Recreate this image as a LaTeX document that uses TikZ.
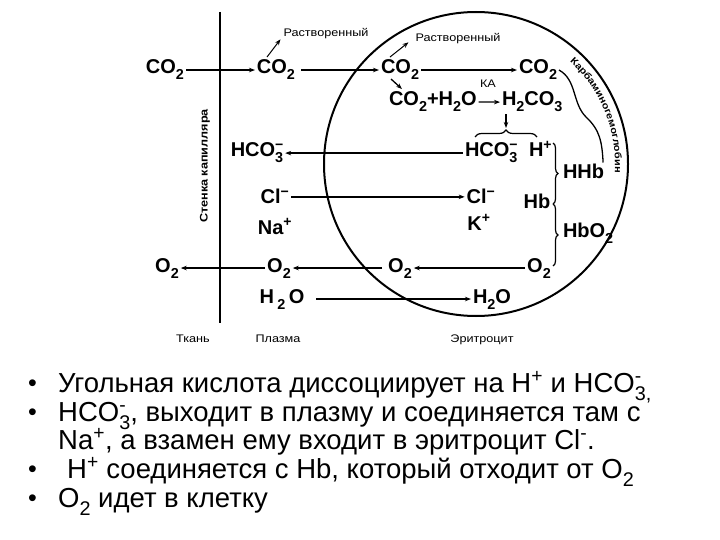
\documentclass[tikz,border=0pt]{standalone}
\usepackage{fontspec}
\usepackage{graphicx}
\setmainfont{Liberation Sans}
\newfontfamily\widefont{Liberation Sans}[FakeStretch=1.15]
\usetikzlibrary{arrows.meta,decorations.pathreplacing,decorations.text}

\newcommand\sbs[1]{\raisebox{-0.3em}{\scalebox{0.72}{#1}}}
\newcommand\sps[1]{\textsuperscript{#1}}
\newcommand\subsup[2]{\rlap{\textsuperscript{#2}}\sbs{#1}}

\tikzset{
 lab/.style={font=\fontsize{20}{22}\selectfont\bfseries, inner sep=0pt, outer sep=2pt, anchor=base},
 small/.style={font=\widefont\fontsize{11}{13}\selectfont, inner sep=0pt, outer sep=1pt, anchor=base},
 arr/.style={-{Stealth[length=6pt,width=4.5pt]}, line width=1.3pt},
 ln/.style={line width=1.3pt},
 brc/.style={decorate, decoration={brace, amplitude=#1}, line width=1.2pt},
 bul/.style={font=\fontsize{27.5}{29}\selectfont, inner sep=0pt, anchor=base west},
 dot/.style={font=\fontsize{25}{26}\selectfont, inner sep=0pt, anchor=base west},
}

\begin{document}
\begin{tikzpicture}[x=1pt,y=-1pt]
\useasboundingbox (0,0) rectangle (720,540);
% capillary wall
\coordinate (wt) at (220,12);
\coordinate (wb) at (220,323);
\draw[line width=2pt] (wt) -- (wb);
\node[rotate=90, font=\widefont\fontsize{11}{13}\selectfont\bfseries, inner sep=0pt] (wall) at (205,166) {Стенка капилляра};
% erythrocyte
\node[circle, draw, line width=2pt, minimum size=304pt, inner sep=0pt] (rbc) at (476,164) {};

% row 1
\node[lab] (tC) at (165,74) {CO\sbs2};
\node[lab] (pC) at (276,74) {CO\sbs2};
\node[lab] (rC1) at (400,74) {CO\sbs2};
\node[lab] (rC2) at (538,74) {CO\sbs2};
\draw[arr] (tC.east) -- (pC.west);
\draw[arr, shorten <=4pt] (pC.east) -- (rC1.west);
\draw[arr] (rC1.east) -- (rC2.west);
\node[small] (d1) at (326,37) {Растворенный};
\node[small] (d2) at (458,42) {Растворенный};
\draw[arr, line width=1pt] ([xshift=-9pt,yshift=1pt]pC.north) -- ([xshift=-2pt,yshift=1pt]d1.south west);
\draw[arr, line width=1pt] ([xshift=-10pt,yshift=1pt]rC1.north) -- ([xshift=-6pt,yshift=3pt]d2.south west);

% row 2
\node[lab, anchor=base west] (r2a) at (387,106) {CO\sbs2+H\sbs2O};
\node[lab, anchor=base west] (r2b) at (500,106) {H\sbs2CO\sbs3};
\node[small] (ka) at (488,88) {КА};
\draw[arr] (r2a.east) -- (r2b.west);
\draw[arr] ([xshift=-9pt,yshift=3pt]rC1.south) -- ([xshift=15pt,yshift=1pt]r2a.north west);
\coordinate (bt) at (506,128);
\draw[arr] (r2b.south -| bt) -- (bt);
\coordinate (bl) at (475,137);
\coordinate (br) at (537,137);
\draw[brc=7pt] (bl) -- (br);

% row 3
\node[lab] (pH) at (257,157) {HCO\subsup{3}{−}};
\node[lab, anchor=base west] (rH) at (463,157) {HCO\subsup{3}{−}};
\node[lab, anchor=base west] (hp) at (527,157) {H\sps{+}};
\draw[arr] (rH.west) -- (pH.east);

% haemoglobin braces
\coordinate (v1) at (553,143);
\coordinate (v2) at (553,204);
\coordinate (v3) at (553,266);
\draw[brc=5pt] (v1) -- (v2);
\draw[brc=5pt] (v2) -- (v3);
\node[lab, anchor=base west] (HHb) at (561,179) {HHb};
\node[lab] (Hb) at (537,209) {Hb};
\node[lab, anchor=base west] (HbO) at (561,237) {HbO\sbs2};

% carbaminohaemoglobin
\draw[ln] (rC2.east) .. controls (577,80) and (572,103) .. (586,117) .. controls (600,130) and (602,142) .. ([xshift=-3pt]HHb.north east);
\path[decorate, decoration={text along path, text align=center,
  text={|\widefont\fontsize{9.5}{11}\selectfont\bfseries|Карбаминогемоглобин}}]
  (rbc.center) ++(-52:139) arc[start angle=-52, end angle=8, radius=139];

% row 4, 5
\node[lab] (pCl) at (275,204) {Cl\sps{−}};
\node[lab] (rCl) at (481,204) {Cl\sps{−}};
\draw[arr] (pCl.east) -- (rCl.west);
\node[lab] (Na) at (275,234) {Na\sps{+}};
\node[lab] (K) at (479,230) {K\sps{+}};

% row 6
\node[lab] (tO) at (167,272) {O\sbs2};
\node[lab] (pO) at (279,272) {O\sbs2};
\node[lab] (rO1) at (400,272) {O\sbs2};
\node[lab] (rO2) at (539,272) {O\sbs2};
\draw[arr] (rO2.west) -- (rO1.east);
\draw[arr, shorten <=4pt] (rO1.west) -- (pO.east);
\draw[arr] (pO.west) -- (tO.east);

% row 7
\node[lab] (pW) at (282,303) {H\,\sbs2\,O};
\node[lab] (rW) at (492,303) {H\sbs2O};
\draw[arr, shorten <=10pt] (pW.east) -- (rW.west);

% bottom labels
\node[small] (tk) at (193,342) {Ткань};
\node[small] (pl) at (278,342) {Плазма};
\node[small] (er) at (482,342) {Эритроцит};

% bullet text
\node[dot] (b1) at (28,391) {•};
\node[dot] (b2) at (28,420) {•};
\node[dot] (b4) at (28,477) {•};
\node[dot] (b5) at (28,506) {•};
\node[bul] (l1) at (58,392) {Угольная кислота диссоциирует на H\sps{+} и HCO\subsup{3}{-}\sbs{,}};
\node[bul] (l2) at (58,421) {HCO\subsup{3}{-}, выходит в плазму и соединяется там с};
\node[bul] (l3) at (58,449) {Na\sps{+}, а взамен ему входит в эритроцит Cl\sps{-}.};
\node[bul] (l4) at (67,478) {H\sps{+} соединяется с Hb, который отходит от O\sbs{2}};
\node[bul] (l5) at (58,507) {O\sbs{2} идет в клетку};
\end{tikzpicture}
\end{document}
